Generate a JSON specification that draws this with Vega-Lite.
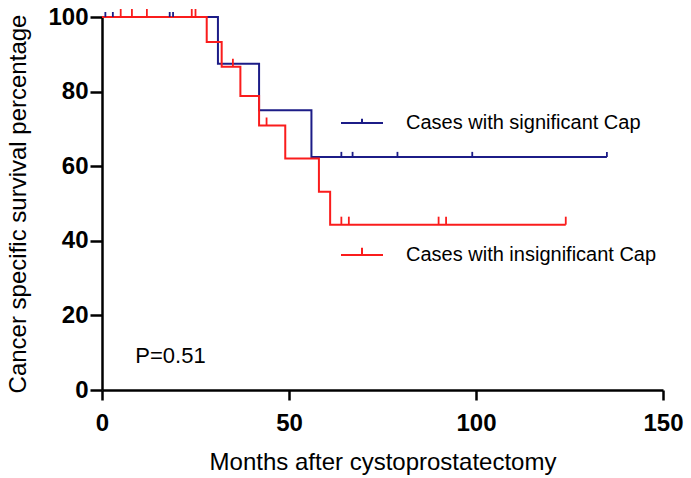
{
  "$schema": "https://vega.github.io/schema/vega-lite/v6.json",
  "autosize": {"type": "none"},
  "padding": {"left": 102, "top": 17, "right": 28, "bottom": 88},
  "width": 561,
  "height": 373,
  "background": "white",
  "config": {
    "view": {"stroke": null},
    "font": "Liberation Sans",
    "axis": {
      "domainColor": "black", "domainWidth": 2.5, "tickColor": "black", "tickWidth": 2.5,
      "grid": false, "labelColor": "black", "titleColor": "black",
      "labelFont": "Liberation Sans", "labelFontWeight": "bold", "labelFontSize": 24,
      "titleFont": "Liberation Sans", "titleFontWeight": "normal", "titleFontSize": 24
    }
  },
  "datasets": {
    "blueCurve": [
      {"group": "Cases with significant Cap", "month": 0, "survival": 100},
      {"group": "Cases with significant Cap", "month": 31, "survival": 87.5},
      {"group": "Cases with significant Cap", "month": 42, "survival": 75},
      {"group": "Cases with significant Cap", "month": 56, "survival": 62.5},
      {"group": "Cases with significant Cap", "month": 135, "survival": 62.5}
    ],
    "redCurve": [
      {"group": "Cases with insignificant Cap", "month": 0, "survival": 100},
      {"group": "Cases with insignificant Cap", "month": 28, "survival": 93.33},
      {"group": "Cases with insignificant Cap", "month": 32, "survival": 86.67},
      {"group": "Cases with insignificant Cap", "month": 37, "survival": 78.79},
      {"group": "Cases with insignificant Cap", "month": 42, "survival": 70.91},
      {"group": "Cases with insignificant Cap", "month": 49, "survival": 62.05},
      {"group": "Cases with insignificant Cap", "month": 58, "survival": 53.18},
      {"group": "Cases with insignificant Cap", "month": 61, "survival": 44.32},
      {"group": "Cases with insignificant Cap", "month": 124, "survival": 44.32}
    ],
    "blueCensor": [
      {"month": 0.9, "survival": 100}, {"month": 2.9, "survival": 100},
      {"month": 18.1, "survival": 100}, {"month": 19, "survival": 100},
      {"month": 64, "survival": 62.5}, {"month": 67, "survival": 62.5},
      {"month": 79, "survival": 62.5}, {"month": 99, "survival": 62.5},
      {"month": 135, "survival": 62.5}
    ],
    "redCensor": [
      {"month": 5, "survival": 100}, {"month": 8, "survival": 100},
      {"month": 12, "survival": 100}, {"month": 24, "survival": 100},
      {"month": 25, "survival": 100}, {"month": 35, "survival": 86.67},
      {"month": 44, "survival": 70.91}, {"month": 64, "survival": 44.32},
      {"month": 66, "survival": 44.32}, {"month": 90, "survival": 44.32},
      {"month": 92, "survival": 44.32}, {"month": 124, "survival": 44.32}
    ],
    "note": [
      {"label": "P=0.51", "month": 8.9, "survival": 7.3}
    ]
  },
  "encoding": {
    "x": {"field": "month", "type": "quantitative",
      "scale": {"domain": [0, 150], "nice": false, "zero": false},
      "axis": {"values": [0, 50, 100, 150], "tickSize": 10, "labelPadding": 11, "titlePadding": 15,
        "title": "Months after cystoprostatectomy", "labelFlush": false}},
    "y": {"field": "survival", "type": "quantitative",
      "scale": {"domain": [0, 100], "nice": false},
      "axis": {"values": [0, 20, 40, 60, 80, 100], "tickSize": 12, "labelPadding": 2, "titlePadding": 17,
        "title": "Cancer specific survival percentage", "labelFlush": false}}
  },
  "layer": [
    {
      "data": {"name": "blueCurve"},
      "mark": {"type": "line", "interpolate": "step-after", "strokeWidth": 2},
      "encoding": {
        "color": {"field": "group", "type": "nominal",
          "scale": {"domain": ["Cases with significant Cap", "Cases with insignificant Cap"], "range": ["#1c1c87", "#fa1c1c"]},
          "legend": {
            "orient": "none", "legendX": 238, "legendY": 84, "title": null, "padding": 0,
            "symbolType": "M-1,0H1M0,0V-0.2", "symbolSize": 1764, "symbolStrokeWidth": 2,
            "labelFont": "Liberation Sans", "labelFontSize": 20, "labelColor": "black",
            "labelOffset": 22, "rowPadding": 100, "labelLimit": 0,
            "encode": {"symbols": {"update": {"shape": {"signal": "datum.value === 'Cases with significant Cap' ? 'M-1,0H1M0,0V-0.2' : 'M-1,0H1M0,0V-0.34'"}}}}
          }}
      }
    },
    {
      "data": {"name": "redCurve"},
      "mark": {"type": "line", "interpolate": "step-after", "strokeWidth": 2},
      "encoding": {"color": {"field": "group", "type": "nominal"}}
    },
    {
      "data": {"name": "blueCensor"},
      "mark": {"type": "tick", "orient": "vertical", "size": 5, "thickness": 1.8, "yOffset": -2.5, "color": "#1c1c87", "opacity": 1}
    },
    {
      "data": {"name": "redCensor"},
      "mark": {"type": "tick", "orient": "vertical", "size": 8, "thickness": 1.8, "yOffset": -4, "color": "#fa1c1c", "opacity": 1}
    },
    {
      "data": {"name": "note"},
      "mark": {"type": "text", "align": "left", "baseline": "alphabetic", "font": "Liberation Sans", "fontSize": 22, "fill": "black"},
      "encoding": {
        "text": {"field": "label", "type": "nominal"}
      }
    }
  ]
}
